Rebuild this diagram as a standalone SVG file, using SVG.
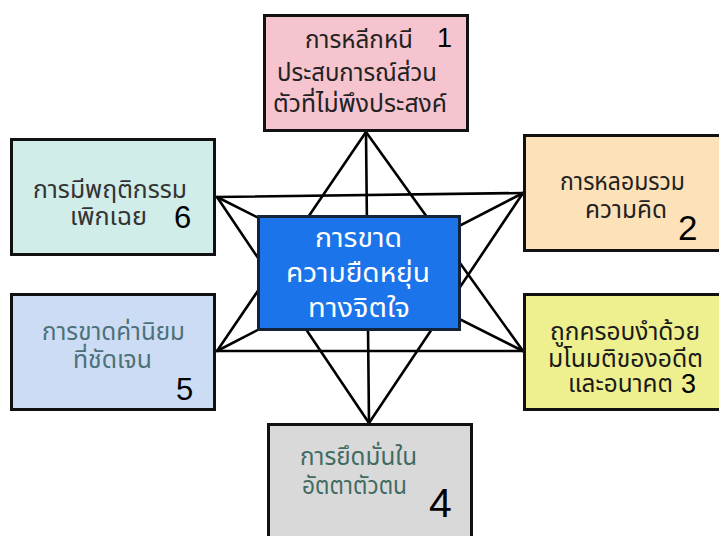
<svg xmlns="http://www.w3.org/2000/svg" width="719" height="536" viewBox="0 0 719 536">
<style>
.box{stroke:#111;stroke-width:3}
.t{font-family:"Noto Sans Thai","Noto Sans","DejaVu Sans",sans-serif;font-size:24px}
.m{font-size:26px}
.n{font-family:"Liberation Sans",sans-serif;fill:#000}
.c line{stroke:#000;stroke-width:2.6;stroke-linecap:round}
</style>
<rect width="719" height="536" fill="#fff"/>
<g class="c" id="connectors">
<line x1="366" y1="132" x2="369" y2="423"/>
<line x1="217" y1="197" x2="523" y2="193"/>
<line x1="217" y1="351" x2="523" y2="351"/>
<line x1="217" y1="197" x2="523" y2="351"/>
<line x1="217" y1="351" x2="523" y2="193"/>
<line x1="366" y1="132" x2="217" y2="351"/>
<line x1="366" y1="132" x2="523" y2="351"/>
<line x1="369" y1="423" x2="217" y2="197"/>
<line x1="369" y1="423" x2="523" y2="193"/>
</g>
<g id="n1">
<rect class="box" x="264.5" y="15.5" width="203" height="115" fill="#f5c4cf"/>
<text class="t" fill="#222" x="305" y="48" textLength="108" lengthAdjust="spacingAndGlyphs">การหลีกหนี</text>
<text class="t" fill="#222" x="277" y="81" textLength="160" lengthAdjust="spacingAndGlyphs">ประสบการณ์ส่วน</text>
<text class="t" fill="#222" x="273" y="112" textLength="174" lengthAdjust="spacingAndGlyphs">ตัวที่ไม่พึงประสงค์</text>
<text class="n" x="437" y="47" font-size="27">1</text>
</g>
<g id="n2">
<rect class="box" x="524.5" y="135.5" width="203" height="115" fill="#fde1b9"/>
<text class="t" fill="#222" x="560" y="190" textLength="125" lengthAdjust="spacingAndGlyphs">การหลอมรวม</text>
<text class="t" fill="#222" x="585" y="218" textLength="82" lengthAdjust="spacingAndGlyphs">ความคิด</text>
<text class="n" x="678" y="240" font-size="35">2</text>
</g>
<g id="n3">
<rect class="box" x="524.5" y="294.5" width="203" height="115" fill="#eef08f"/>
<text class="t" fill="#1a1a1a" x="550" y="340" textLength="150" lengthAdjust="spacingAndGlyphs">ถูกครอบงำด้วย</text>
<text class="t" fill="#1a1a1a" x="548" y="367" textLength="155" lengthAdjust="spacingAndGlyphs">มโนมติของอดีต</text>
<text class="t" fill="#1a1a1a" x="568" y="392" textLength="105" lengthAdjust="spacingAndGlyphs">และอนาคต</text>
<text class="n" x="681" y="393" font-size="27">3</text>
</g>
<g id="n4">
<rect class="box" x="268.5" y="424.5" width="203" height="115" fill="#d9d9d9"/>
<text class="t" fill="#3f6b63" x="300" y="465" textLength="117" lengthAdjust="spacingAndGlyphs">การยึดมั่นใน</text>
<text class="t" fill="#3f6b63" x="302" y="494" textLength="105" lengthAdjust="spacingAndGlyphs">อัตตาตัวตน</text>
<text class="n" x="429" y="517" font-size="41">4</text>
</g>
<g id="n5">
<rect class="box" x="11.5" y="294.5" width="203" height="115" fill="#cddcf5"/>
<text class="t" fill="#4c7178" x="42" y="340" textLength="143" lengthAdjust="spacingAndGlyphs">การขาดค่านิยม</text>
<text class="t" fill="#4c7178" x="73" y="368" textLength="79" lengthAdjust="spacingAndGlyphs">ที่ชัดเจน</text>
<text class="n" x="176" y="400" font-size="31">5</text>
</g>
<g id="n6">
<rect class="box" x="11.5" y="139.5" width="203" height="115" fill="#d0ede9"/>
<text class="t" fill="#333" x="33" y="198" textLength="154" lengthAdjust="spacingAndGlyphs">การมีพฤติกรรม</text>
<text class="t" fill="#333" x="70" y="225" textLength="77" lengthAdjust="spacingAndGlyphs">เพิกเฉย</text>
<text class="n" x="174" y="228" font-size="31">6</text>
</g>
<g id="center">
<rect x="258.5" y="216.5" width="201" height="113" fill="#1b74e9" stroke="#13233a" stroke-width="3"/>
<text class="t m" fill="#fff" x="315" y="247" textLength="87" lengthAdjust="spacingAndGlyphs">การขาด</text>
<text class="t m" fill="#fff" x="286" y="282" textLength="144" lengthAdjust="spacingAndGlyphs">ความยืดหยุ่น</text>
<text class="t m" fill="#fff" x="308" y="317" textLength="102" lengthAdjust="spacingAndGlyphs">ทางจิตใจ</text>
</g>
</svg>
